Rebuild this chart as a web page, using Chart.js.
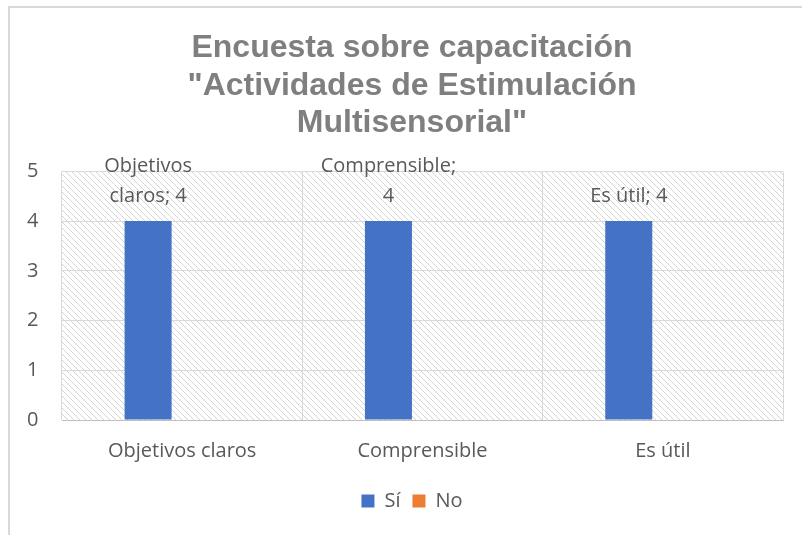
<!DOCTYPE html>
<html>
<head>
<meta charset="utf-8">
<script src="https://cdn.jsdelivr.net/npm/chart.js@4.4.0/dist/chart.umd.min.js"></script>
<style>
  html, body { margin: 0; padding: 0; background: #fff; overflow: hidden; }
  #frame {
    position: absolute; left: 8px; top: 6px;
    width: 820px; height: 545px;
    border-left: 2px solid #d9d9d9; border-top: 2px solid #d9d9d9;
  }
  #wrap { position: absolute; left: 0; top: 0; width: 806px; height: 540px; }
</style>
</head>
<body>
<div id="frame"><div id="wrap"><canvas id="chart"></canvas></div></div>
<script>
// Datos
const categorias = ['Objetivos claros', 'Comprensible', 'Es útil'];
const valoresSi = [4, 4, 4];
const valoresNo = [0, 0, 0];
const tituloLineas = ['Encuesta sobre capacitación', '"Actividades de Estimulación', 'Multisensorial"'];
const ticksY = [0, 1, 2, 3, 4, 5];

const GRIS_TEXTO = '#595959';
const FUENTE = "'Open Sans', 'Noto Sans', sans-serif";

// Fondo rayado del área de trazado
function crearTrama(ctx) {
  const c = document.createElement('canvas');
  c.width = 6; c.height = 6;
  const p = c.getContext('2d');
  p.fillStyle = '#fff';
  p.fillRect(0, 0, 6, 6);
  p.strokeStyle = '#d4d4d4';
  p.lineWidth = 1;
  p.beginPath();
  p.moveTo(-1, -1); p.lineTo(7, 7);
  p.stroke();
  return ctx.createPattern(c, 'repeat');
}

const fondoRayado = {
  id: 'fondoRayado',
  beforeDraw(chart) {
    const { ctx, chartArea: a } = chart;
    ctx.save();
    ctx.fillStyle = crearTrama(ctx);
    ctx.fillRect(a.left, a.top, a.right - a.left, a.bottom - a.top);
    ctx.restore();
  }
};

// Etiquetas de datos "Categoría; valor" con ajuste de línea
function partirTexto(ctx, texto, maxAncho) {
  const palabras = texto.split(' ');
  const lineas = [];
  let actual = '';
  palabras.forEach(w => {
    const prueba = actual ? actual + ' ' + w : w;
    if (ctx.measureText(prueba).width > maxAncho && actual) {
      lineas.push(actual);
      actual = w;
    } else {
      actual = prueba;
    }
  });
  if (actual) lineas.push(actual);
  return lineas;
}

const etiquetasDatos = {
  id: 'etiquetasDatos',
  afterDatasetsDraw(chart) {
    const { ctx } = chart;
    const meta = chart.getDatasetMeta(0);
    ctx.save();
    ctx.font = `20px ${FUENTE}`;
    ctx.fillStyle = GRIS_TEXTO;
    ctx.textAlign = 'center';
    ctx.textBaseline = 'middle';
    meta.data.forEach((bar, i) => {
      const v = chart.data.datasets[0].data[i];
      if (!v) return;
      const lineas = partirTexto(ctx, `${chart.data.labels[i]}; ${v}`, 140);
      let y = bar.y - 25;
      for (let k = lineas.length - 1; k >= 0; k--) {
        ctx.fillText(lineas[k], bar.x, y);
        y -= 30;
      }
    });
    ctx.restore();
  }
};

new Chart(document.getElementById('chart'), {
  type: 'bar',
  data: {
    labels: categorias,
    datasets: [
      { label: 'Sí', data: valoresSi, backgroundColor: '#4472C4', categoryPercentage: 0.567, barPercentage: 0.69 },
      { label: 'No', data: valoresNo, backgroundColor: '#ED7D31', categoryPercentage: 0.567, barPercentage: 0.69 }
    ]
  },
  options: {
    responsive: true,
    maintainAspectRatio: false,
    animation: false,
    layout: { padding: { left: 31, right: 33, top: 0, bottom: 27 } },
    plugins: {
      title: {
        display: true,
        text: tituloLineas,
        color: '#7f7f7f',
        font: { family: "'Liberation Sans', Arial, sans-serif", size: 32, weight: 'bold', lineHeight: 1.16 },
        padding: { top: 22, bottom: 30 }
      },
      legend: {
        position: 'bottom',
        labels: {
          color: GRIS_TEXTO,
          font: { family: FUENTE, size: 20 },
          boxWidth: 13, boxHeight: 13, padding: 12
        }
      },
      tooltip: { enabled: false }
    },
    scales: {
      x: {
        afterFit: s => { s.height = 59; },
        grid: { color: '#d9d9d9', drawTicks: false, offset: true },
        border: { color: '#bfbfbf' },
        ticks: { color: GRIS_TEXTO, font: { family: FUENTE, size: 20 }, padding: 19 }
      },
      y: {
        min: 0, max: 5,
        afterBuildTicks: s => { s.ticks = ticksY.map(v => ({ value: v })); },
        afterFit: s => { s.width = 21; },
        grid: { color: '#d9d9d9', drawTicks: false },
        border: { display: false },
        // etiquetas fuera de la caja del eje (mirror evita el recorte)
        ticks: { color: GRIS_TEXTO, font: { family: FUENTE, size: 20 }, mirror: true, padding: -35 }
      }
    }
  },
  plugins: [fondoRayado, etiquetasDatos]
});
</script>
</body>
</html>
